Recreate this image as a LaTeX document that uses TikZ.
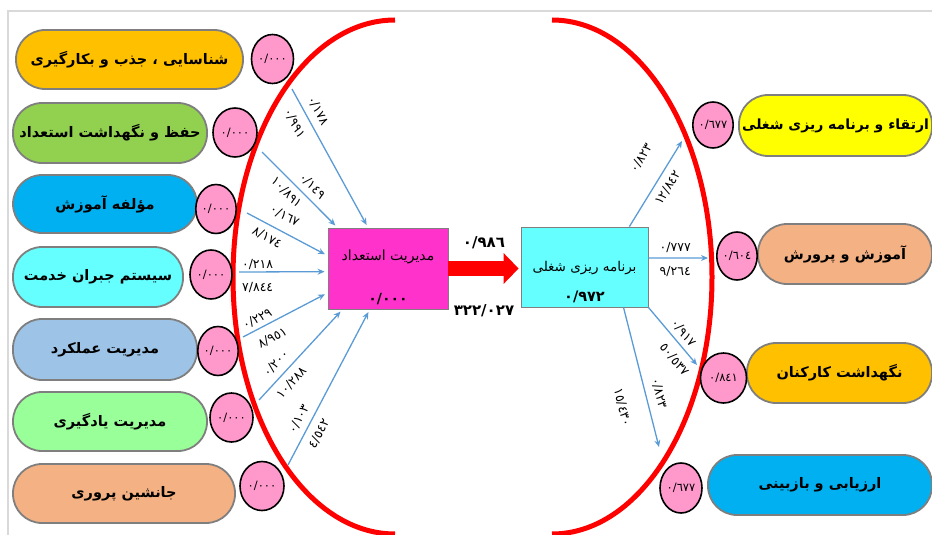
\documentclass[tikz,border=0pt]{standalone}
\usepackage{fontspec}
\usetikzlibrary{shapes.geometric,arrows.meta}
\newfontfamily\fa[Script=Arabic]{DejaVu Sans}
\TeXXeTstate=1
\newcommand\fatxt[1]{\beginR#1\endR}

\definecolor{gold}{HTML}{FFC000}
\definecolor{leafgreen}{HTML}{92D050}
\definecolor{skyblue}{HTML}{00B0F0}
\definecolor{aqua}{HTML}{66FFFF}
\definecolor{steel}{HTML}{9DC3E6}
\definecolor{mint}{HTML}{99FF99}
\definecolor{peach}{HTML}{F4B183}
\definecolor{lemon}{HTML}{FFFF00}
\definecolor{rosy}{HTML}{FF99CC}
\definecolor{magentabox}{HTML}{FF33CC}
\definecolor{linkblue}{HTML}{5B9BD5}
\definecolor{rimgray}{HTML}{7F7F7F}
\definecolor{framegray}{HTML}{D9D9D9}

\tikzset{
  pill/.style={draw=rimgray, line width=1.8pt, rounded corners=29pt, inner sep=0pt,
    minimum height=59pt, font=\fa\bfseries\fontsize{14.5}{16}\selectfont},
  err/.style={ellipse, draw=black, line width=1.6pt, fill=rosy, inner sep=0pt,
    minimum width=42pt, minimum height=49pt, font=\fa\fontsize{11.5}{12}\selectfont},
  latent/.style={draw=rimgray, line width=.8pt, inner sep=0pt},
  link/.style={draw=linkblue, line width=1.3pt, -{Stealth[length=7pt,width=6pt]}},
  lab/.style={font=\fa\fontsize{12.5}{13}\selectfont, sloped, inner sep=1pt},
  big/.style={font=\fa\bfseries\fontsize{15}{16}\selectfont},
}

\begin{document}
\begin{tikzpicture}[x=1pt,y=-1pt]
\useasboundingbox (0,0) rectangle (932,535);
\draw[framegray, line width=1.2pt] (8,535) -- (8,11) -- (932,11);

\draw[red, line width=5pt] (395,20) arc[start angle=90, end angle=270, x radius=162pt, y radius=257pt];
\draw[red, line width=5pt] (552,20) arc[start angle=90, end angle=-90, x radius=160pt, y radius=257pt];

\node[pill, fill=gold, minimum width=227pt] (a1) at (129.5,59.5) {\fatxt{شناسایی ، جذب و بکارگیری}};
\node[pill, fill=leafgreen, minimum width=194pt, minimum height=60pt] (a2) at (110,133) {\fatxt{حفظ و نگهداشت استعداد}};
\node[pill, fill=skyblue, minimum width=184pt, minimum height=58pt] (a3) at (105,204) {\fatxt{مؤلفه آموزش}};
\node[pill, fill=aqua, minimum width=170pt, minimum height=60pt] (a4) at (98,277) {\fatxt{سیستم جبران خدمت}};
\node[pill, fill=steel, minimum width=184pt, minimum height=61pt] (a5) at (105,349.5) {\fatxt{مدیریت عملکرد}};
\node[pill, fill=mint, minimum width=194pt] (a6) at (110,421.5) {\fatxt{مدیریت یادگیری}};
\node[pill, fill=peach, minimum width=222pt] (a7) at (124,493.5) {\fatxt{جانشین پروری}};

\node[err] (e1) at (272.5,59) {٠/٠٠٠};
\node[err, minimum width=44pt] (e2) at (235,132.5) {٠/٠٠٠};
\node[err, minimum width=39pt] (e3) at (216,209) {٠/٠٠٠};
\node[err] (e4) at (211,274.5) {٠/٠٠٠};
\node[err, minimum width=40pt] (e5) at (218,351) {٠/٠٠٠};
\node[err, minimum width=43pt] (e6) at (231.5,417.5) {٠/٠٠٠};
\node[err, minimum width=44pt] (e7) at (262,486) {٠/٠٠٠};

\node[latent, fill=magentabox, minimum width=120pt, minimum height=81pt] (tal) at (388,268.5) {};
\node[font=\fa\fontsize{14}{15}\selectfont] (taln) at (388,257) {\fatxt{مدیریت استعداد}};
\node[font=\fa\bfseries\fontsize{14}{15}\selectfont] (talv) at (388,299) {٠/٠٠٠};

\node[latent, fill=aqua, minimum width=127pt, minimum height=80pt] (job) at (584.5,267) {};
\node[font=\fa\fontsize{13.5}{15}\selectfont] (jobn) at (584.5,268) {\fatxt{برنامه ریزی شغلی}};
\node[font=\fa\bfseries\fontsize{14.5}{15}\selectfont] (jobv) at (584.5,297) {٠/٩٧٢};

\draw[red, line width=15pt, -{Triangle[length=15pt,width=30pt]}, shorten >=2pt] (tal.east) -- (tal.east -| job.west);
\node[big] (bw) at (484,243) {٠/٩٨٦};
\node[big] (bt) at (484,311) {٣٢٢/٠٢٧};

\coordinate (s1) at (292,89);
\coordinate (s2) at (262,152);
\coordinate (s3) at (247,213);
\coordinate (s4) at (239,272);
\coordinate (s5) at (243,337);
\coordinate (s6) at (259,400);
\coordinate (s7) at (288,465);

\begin{scope}[shorten >=3pt]
\draw[link] (s1) -- (tal.116) node[lab, above=5.5pt, pos=.2] {٠/١٧٨} node[lab, below=7.5pt, pos=.2] {٠/٩٩١};
\draw[link] (s2) -- (tal.141) node[lab, above=4.5pt, pos=.56] {٠/١٤٩} node[lab, below=4.5pt, pos=.43] {١٠/٨٩١};
\draw[link] (s3) -- (tal.168) node[lab, above=8.5pt, pos=.38] {٠/١٦٧} node[lab, below=5.5pt, pos=.32] {٨/١٧٤};
\draw[link] (s4) -- (tal.183) node[lab, above=1pt, pos=.21] {٠/٢١٨} node[lab, below=8.5pt, pos=.21] {٧/٨٤٤};
\draw[link] (s5) -- (tal.202) node[lab, above=2.5pt, pos=.22] {٠/٢٢٩} node[lab, below=7.5pt, pos=.27] {٨/٩٥١};
\draw[link] (s6) -- (tal.222) node[lab, above=5.5pt, pos=.31] {٠/٢٠٠} node[lab, below=5.5pt, pos=.28] {١٠/٢٨٨};
\draw[link] (s7) -- (tal.246) node[lab, above=5pt, pos=.26] {٠/١٠٣} node[lab, below=6pt, pos=.24] {٤/٥٤٢};
\end{scope}

\node[pill, fill=lemon, minimum width=193pt, minimum height=61pt, font=\fa\bfseries\fontsize{14}{16}\selectfont] (o1) at (835.5,125.5) {\fatxt{ارتقاء و برنامه ریزی شغلی}};
\node[pill, fill=peach, minimum width=174pt, minimum height=60pt] (o2) at (845,254) {\fatxt{آموزش و پرورش}};
\node[pill, fill=gold, minimum width=185pt, minimum height=60pt] (o3) at (839.5,373) {\fatxt{نگهداشت کارکنان}};
\node[pill, fill=skyblue, minimum width=224pt, minimum height=60pt] (o4) at (820,485) {\fatxt{ارزیابی و بازبینی}};

\node[err, minimum width=40pt, minimum height=46pt] (f1) at (713,125) {٠/٦٧٧};
\node[err, minimum width=40pt, minimum height=48pt] (f2) at (737,256) {٠/٦٠٤};
\node[err, minimum width=46pt, minimum height=50pt] (f3) at (723.5,378) {٠/٨٤١};
\node[err, minimum width=42pt, minimum height=50pt] (f4) at (681,488) {٠/٦٧٧};

\coordinate (r1) at (682,141);
\coordinate (r2) at (708,258);
\coordinate (r3) at (697,365);
\coordinate (r4) at (659,447);

\draw[link] (job.42) -- (r1) node[lab, above=19pt, pos=.64] {٠/٨٢٣} node[lab, below=5.5pt, pos=.53] {١٢/٨٤٢};
\draw[link] (job.8) -- (r2) node[lab, above=3.5pt, pos=.45] {٠/٧٧٧} node[lab, below=6.5pt, pos=.45] {٩/٢٦٤};
\draw[link] (job.south east) -- (r3) node[lab, above=3.5pt, pos=.56] {٠/٩١٧} node[lab, below=7pt, pos=.75] {٥٠/٥٣٧};
\draw[link] (job.-46) -- (r4) node[lab, above=6.5pt, pos=.64] {٠/٨٢٣} node[lab, below=19pt, pos=.67] {١٥/٤٣٠};
\end{tikzpicture}
\end{document}
